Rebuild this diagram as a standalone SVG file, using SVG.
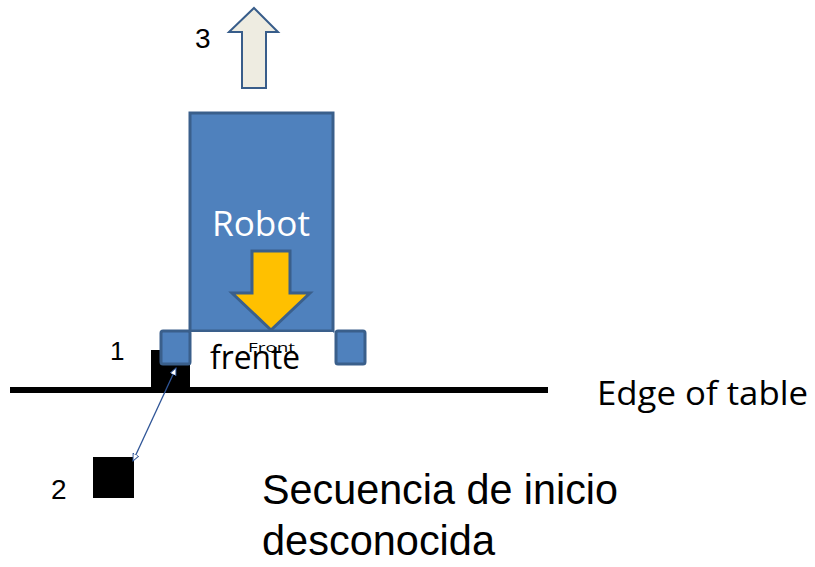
<svg xmlns="http://www.w3.org/2000/svg" width="815" height="567" viewBox="0 0 815 567">
<style>
.lbl{font-family:"Liberation Sans",Arial,sans-serif;fill:#000}
.cal{font-family:"Open Sans","Liberation Sans",sans-serif;fill:#000}
.cap{font-family:"Liberation Sans",Arial,sans-serif;fill:#000;font-size:42px}
.blue{fill:#4f81bd;stroke:#3a5f8b;stroke-width:3}
.blk{fill:#000}
</style>
<defs>
<marker id="tri" viewBox="0 0 10 10" refX="9" refY="5" markerWidth="8" markerHeight="8" orient="auto-start-reverse" markerUnits="userSpaceOnUse">
<path d="M0,1 L9,5 L0,9 Z" fill="#fff" stroke="#2f5597" stroke-width="1.2"/>
</marker>
</defs>
<rect width="815" height="567" fill="#fff"/>

<g id="table-edge">
<rect x="10" y="387" width="538" height="6" class="blk"/>
<text x="597" y="405" class="cal" font-size="33" textLength="211" lengthAdjust="spacingAndGlyphs">Edge of table</text>
</g>

<g id="block1">
<rect x="151" y="350" width="39" height="42" class="blk"/>
<text x="110" y="360" class="lbl" font-size="26">1</text>
</g>

<g id="robot">
<rect x="190" y="113" width="143" height="218" class="blue"/>
<text x="261" y="236" text-anchor="middle" font-family="'Open Sans','Liberation Sans',sans-serif" font-size="35" fill="#fff" textLength="98" lengthAdjust="spacingAndGlyphs">Robot</text>
<polygon points="252,251 290,251 290,293 310,293 271,330 232,293 252,293" fill="#ffc000" stroke="#3a5f8b" stroke-width="3" stroke-linejoin="miter"/>
</g>

<g id="front-area">
<rect x="191" y="332" width="142" height="53" fill="#fff"/>
<text x="248" y="352" class="cal" font-size="13" fill="#333" textLength="47" lengthAdjust="spacingAndGlyphs">Front</text>
<text x="210" y="369" class="cal" font-size="32" textLength="90" lengthAdjust="spacingAndGlyphs">frente</text>
</g>

<g id="sensor-left">
<rect x="161" y="331" width="29" height="33" rx="2" class="blue"/>
</g>
<g id="sensor-right">
<rect x="336" y="331" width="29" height="33" rx="2" class="blue"/>
</g>

<g id="block2">
<rect x="93" y="457" width="41" height="41" class="blk"/>
<text x="51" y="499" class="lbl" font-size="28">2</text>
</g>

<g id="arrow3">
<polygon points="254,8 278,32 266,32 266,88 242,88 242,32 229,32" fill="#eeece1" stroke="#385d8a" stroke-width="2"/>
<text x="195" y="48" class="lbl" font-size="28">3</text>
</g>

<g id="caption">
<text x="262" y="504" class="cap" textLength="356" lengthAdjust="spacingAndGlyphs">Secuencia de inicio</text>
<text x="262" y="555" class="cap" textLength="233" lengthAdjust="spacingAndGlyphs">desconocida</text>
</g>

<g id="connectors">
<line x1="176" y1="368" x2="133" y2="461" stroke="#2f5597" stroke-width="1.3" marker-start="url(#tri)" marker-end="url(#tri)"/>
</g>
</svg>
